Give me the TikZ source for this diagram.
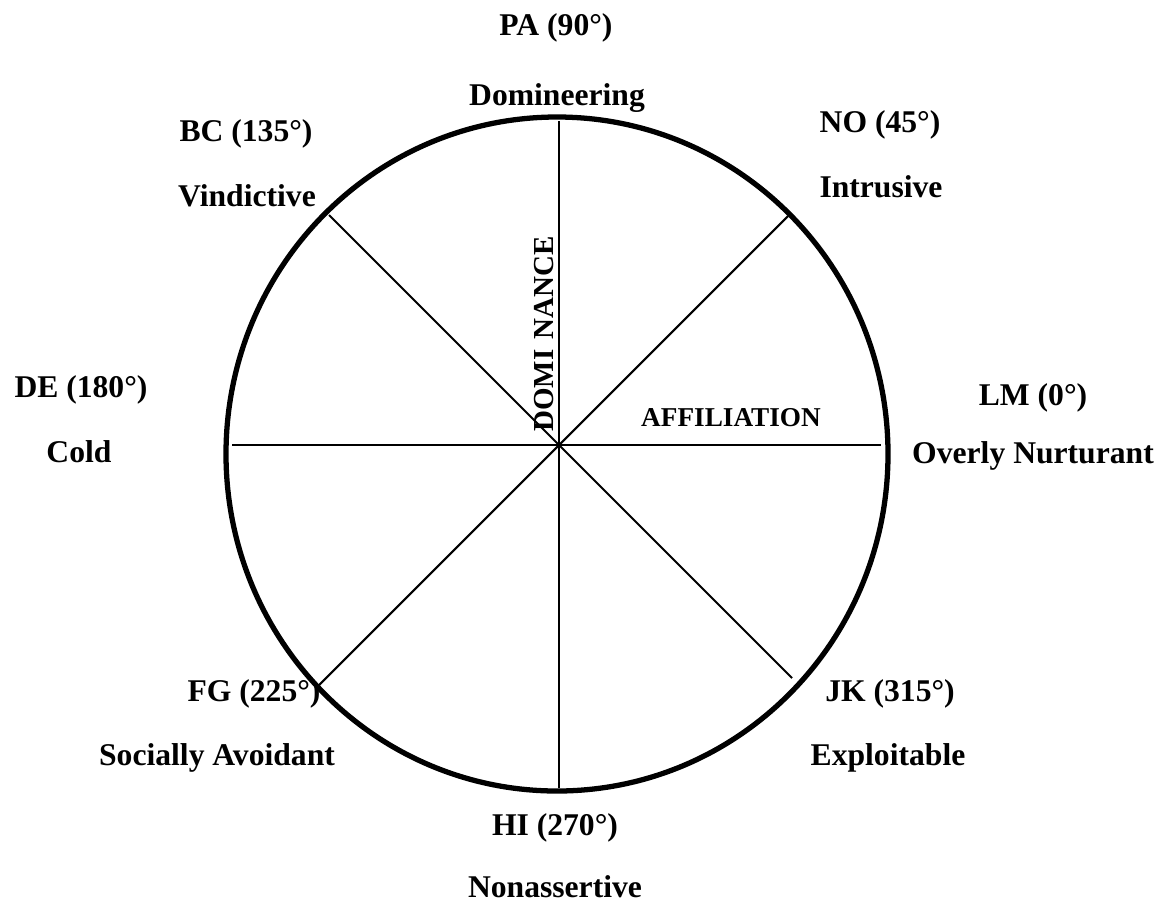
\documentclass[tikz,border=0pt]{standalone}
\usepackage{fontspec}
\setmainfont{Liberation Serif}
\usetikzlibrary{positioning}

\begin{document}
\begin{tikzpicture}[x=0.02cm, y=-0.02cm,
  lbl/.style={anchor=base, inner sep=0pt, font=\fontsize{18}{20}\selectfont\bfseries},
  axlbl/.style={anchor=base, inner sep=0pt, font=\fontsize{15.5}{17}\selectfont\bfseries},
  rim/.style={line width=3pt},
  spoke/.style={line width=1.2pt}
]
\useasboundingbox (0,0) rectangle (1165,904);
% circle and spokes
\draw[rim] (557,454) ellipse [x radius=331, y radius=337];
\coordinate (c) at (559,445);
\coordinate (n) at (559,121);
\coordinate (s) at (559,788);
\coordinate (e) at (881,445);
\coordinate (w) at (232,445);
\coordinate (ne) at (788,216);
\coordinate (nw) at (329,215);
\coordinate (se) at (792,678);
\coordinate (sw) at (319,685);
\foreach \p in {n,ne,e,se,s,sw,w,nw}
  \draw[spoke] (c) -- (\p);
% axis names
\node[axlbl] (aff) at (731,426) {AFFILIATION};
\node[axlbl, rotate=90, font=\fontsize{16.5}{18}\selectfont\bfseries] (dom) at (553,334) {DOMI\hspace{0.35em}NANCE};
% octant labels
\node[lbl] (pa) at (556,35) {PA (90°)};
\node[lbl] (pal) at (557,105) {Domineering};
\node[lbl] (no) at (880,132) {NO (45°)};
\node[lbl] (nol) at (881,197) {Intrusive};
\node[lbl] (bc) at (246,141) {BC (135°)};
\node[lbl] (bcl) at (247,206) {Vindictive};
\node[lbl] (de) at (81,397) {DE (180°)};
\node[lbl] (del) at (79,462) {Cold};
\node[lbl] (lm) at (1033,405) {LM (0°)};
\node[lbl] (lml) at (1033,463) {Overly Nurturant};
\node[lbl] (fg) at (254,701) {FG (225°)};
\node[lbl] (fgl) at (217,765) {Socially Avoidant};
\node[lbl] (jk) at (890,701) {JK (315°)};
\node[lbl] (jkl) at (888,765) {Exploitable};
\node[lbl] (hi) at (555,835) {HI (270°)};
\node[lbl] (hil) at (555,897) {Nonassertive};
\end{tikzpicture}
\end{document}
